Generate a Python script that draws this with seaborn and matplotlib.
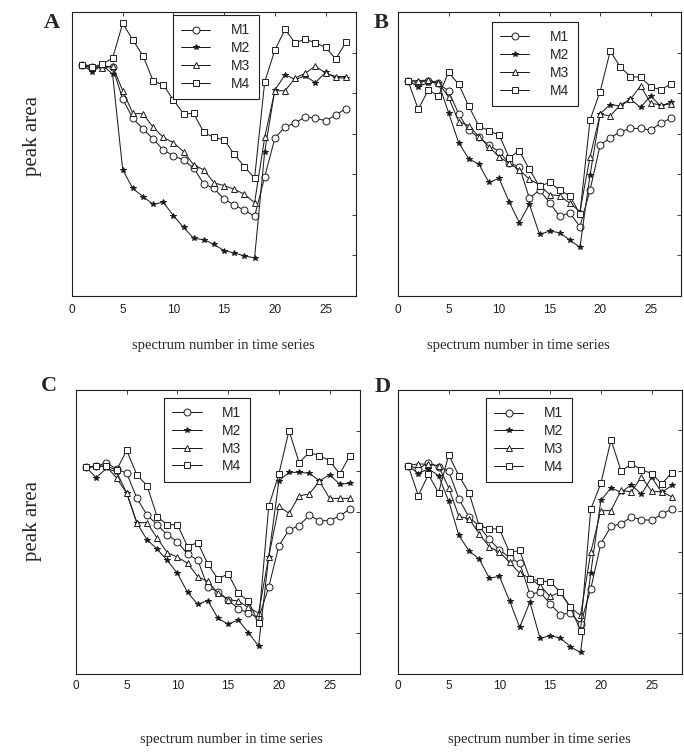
import matplotlib
matplotlib.use("Agg")
import matplotlib.pyplot as plt
import seaborn as sns
import numpy as np

# ---------------- data ----------------
spectrum = list(range(1, 28))
series_names = ["M1", "M2", "M3", "M4"]

A_M1 = [5.69,5.61,5.67,5.64,4.85,4.38,4.12,3.87,3.60,3.46,3.35,3.15,2.76,2.65,2.39,2.24,2.12,1.96,2.94,3.89,4.17,4.26,4.42,4.38,4.32,4.46,4.62]
A_M2 = [5.69,5.53,5.69,5.47,3.11,2.65,2.45,2.26,2.31,1.98,1.69,1.42,1.39,1.27,1.12,1.06,0.99,0.94,3.56,5.08,5.45,5.34,5.42,5.26,5.51,5.38,5.37]
A_M3 = [5.69,5.68,5.61,5.67,5.06,4.50,4.49,4.16,3.91,3.78,3.56,3.23,3.11,2.79,2.72,2.63,2.51,2.30,3.91,5.06,5.06,5.37,5.49,5.67,5.49,5.41,5.41]
A_M4 = [5.69,5.64,5.72,5.86,6.72,6.31,5.92,5.30,5.20,4.83,4.49,4.50,4.03,3.91,3.85,3.49,3.19,2.90,5.28,6.06,6.57,6.24,6.33,6.24,6.13,5.84,6.25]

B_M1 = [5.30,5.26,5.31,5.24,5.05,4.49,4.08,3.91,3.72,3.56,3.27,3.19,2.41,2.61,2.30,1.96,2.05,1.71,2.61,3.72,3.90,4.05,4.13,4.13,4.09,4.26,4.38]
B_M2 = [5.30,5.16,5.26,5.26,4.52,3.78,3.38,3.25,2.80,2.90,2.32,1.81,2.26,1.52,1.60,1.56,1.38,1.20,2.98,4.49,4.72,4.68,4.85,4.65,4.93,4.68,4.78]
B_M3 = [5.30,5.31,5.32,5.26,4.90,4.30,4.20,3.93,3.68,3.43,3.27,3.11,2.88,2.74,2.50,2.47,2.29,2.08,3.43,4.48,4.44,4.71,4.85,5.18,4.75,4.71,4.73]
B_M4 = [5.30,4.60,5.08,4.93,5.51,5.22,4.68,4.19,4.07,3.97,3.41,3.58,3.12,2.70,2.80,2.61,2.47,2.02,4.34,5.04,6.04,5.64,5.41,5.39,5.16,5.08,5.23]

C_M1 = [5.09,5.12,5.21,5.05,4.95,4.33,3.92,3.68,3.43,3.26,2.95,2.81,2.14,2.03,1.83,1.60,1.51,1.37,2.14,3.16,3.55,3.66,3.91,3.78,3.78,3.90,4.06]
C_M2 = [5.09,4.84,5.07,4.98,4.46,3.72,3.31,3.08,2.80,2.48,2.01,1.72,1.81,1.37,1.23,1.33,1.02,0.69,2.89,4.76,4.97,4.97,4.95,4.76,4.91,4.68,4.70]
C_M3 = [5.09,5.13,5.12,4.83,4.46,3.73,3.73,3.35,2.99,2.88,2.73,2.40,2.28,1.99,1.83,1.80,1.64,1.50,2.89,4.13,3.96,4.39,4.44,4.75,4.33,4.33,4.33]
C_M4 = [5.09,5.12,5.12,5.03,5.51,4.91,4.64,3.88,3.68,3.68,3.14,3.24,2.71,2.34,2.47,1.99,1.80,1.25,4.13,4.93,6.00,5.21,5.46,5.38,5.26,4.93,5.38]

D_M1 = [5.13,5.05,5.20,5.10,4.99,4.31,3.86,3.64,3.31,3.06,2.86,2.73,1.97,2.01,1.73,1.46,1.50,1.23,2.09,3.21,3.63,3.70,3.86,3.80,3.78,3.93,4.06]
D_M2 = [5.13,4.93,5.05,4.88,4.25,3.41,3.03,2.83,2.36,2.40,1.80,1.15,1.77,0.88,0.94,0.89,0.67,0.53,2.48,4.27,4.58,4.47,4.66,4.42,4.84,4.47,4.64]
D_M3 = [5.13,5.17,5.16,5.12,4.58,3.88,3.82,3.45,3.13,3.00,2.75,2.48,2.36,2.17,1.91,2.01,1.64,1.44,2.99,4.02,4.02,4.52,4.48,4.85,4.50,4.48,4.36]
D_M4 = [5.13,4.39,4.91,4.46,5.39,4.88,4.46,3.65,3.57,3.57,2.99,3.04,2.34,2.29,2.27,2.02,1.64,1.07,4.05,4.69,5.76,4.99,5.17,5.03,4.93,4.68,4.95]

panel_letters = ["A", "B", "C", "D"]
x_ticks = [0, 5, 10, 15, 20, 25]
x_label = "spectrum number in time series"
y_label = "peak area"

# ---------------- style ----------------
sns.set_style("white")
plt.rcParams["font.family"] = ["Liberation Sans", "DejaVu Sans"]

W, H = 684, 752
fig = plt.figure(figsize=(W / 100, H / 100), dpi=100)


def rect(l, t, r, b):
    return [l / W, 1 - b / H, (r - l) / W, (b - t) / H]


panels = [
    dict(data=[A_M1, A_M2, A_M3, A_M4], rect=rect(72, 12, 356, 296), leg=(0.355, 0.989), pad=5.5),
    dict(data=[B_M1, B_M2, B_M3, B_M4], rect=rect(398, 12, 681, 296), leg=(0.331, 0.965), pad=5.5),
    dict(data=[C_M1, C_M2, C_M3, C_M4], rect=rect(76, 390, 360, 674), leg=(0.310, 0.973), pad=4.0),
    dict(data=[D_M1, D_M2, D_M3, D_M4], rect=rect(398, 389.5, 682, 674), leg=(0.309, 0.970), pad=4.0),
]

marker_specs = {
    "M1": dict(marker="o", markersize=5.0, markerfacecolor="white"),
    "M2": dict(marker="*", markersize=4.0, markerfacecolor="#1a1a1a"),
    "M3": dict(marker="^", markersize=5.0, markerfacecolor="white"),
    "M4": dict(marker="s", markersize=4.6, markerfacecolor="white"),
}
line_color = "#1e1e1e"

for p in panels:
    ax = fig.add_axes(p["rect"])
    for name, vals in zip(series_names, p["data"]):
        spec = marker_specs[name]
        sns.lineplot(x=spectrum, y=vals, ax=ax, color=line_color, linewidth=0.75,
                     marker=spec["marker"], markersize=spec["markersize"],
                     markerfacecolor=spec["markerfacecolor"],
                     markeredgecolor=line_color, markeredgewidth=0.7,
                     legend=False)
    ax.set_xlim(0, 28)
    ax.set_ylim(0, 7)
    ax.set_xticks(x_ticks)
    ax.set_xticklabels([str(t) for t in x_ticks])
    ax.set_yticks(range(1, 7))
    ax.set_yticklabels([])
    ax.set_xlabel("")
    ax.set_ylabel("")
    ax.tick_params(direction="in", top=True, right=True, length=3.2, width=0.6,
                   labelsize=8.5, pad=p["pad"], colors="#1e1e1e")
    for s in ax.spines.values():
        s.set_visible(True)
        s.set_color("#1e1e1e")
        s.set_linewidth(0.8)
    leg = ax.legend(handles=ax.get_lines()[:4], labels=series_names,
                    loc="upper left", bbox_to_anchor=p["leg"], borderaxespad=0,
                    frameon=True, fancybox=False, framealpha=1, edgecolor="#1e1e1e",
                    fontsize=10, handlelength=2.1, handletextpad=1.5,
                    borderpad=0.6, labelspacing=0.27)
    leg.get_frame().set_linewidth(0.8)

serif = ["Liberation Serif", "DejaVu Serif"]
# panel letters
for letter, (px, py) in zip(panel_letters, [(51.5, 22.5), (381, 23), (49, 386), (383, 387)]):
    fig.text(px / W, 1 - py / H, letter, family=serif, weight="bold", fontsize=16,
             ha="center", va="center")
# y labels
for (px, py) in [(33, 136), (33, 521)]:
    fig.text(px / W, 1 - py / H, y_label, family=serif, fontsize=15, rotation=90,
             ha="center", va="center")
# x labels
for (px, py) in [(223, 346), (518, 346), (231, 740), (539, 740)]:
    fig.text(px / W, 1 - py / H, x_label, family=serif, fontsize=10.5,
             ha="center", va="center")

fig.savefig("out.png", dpi=100)
